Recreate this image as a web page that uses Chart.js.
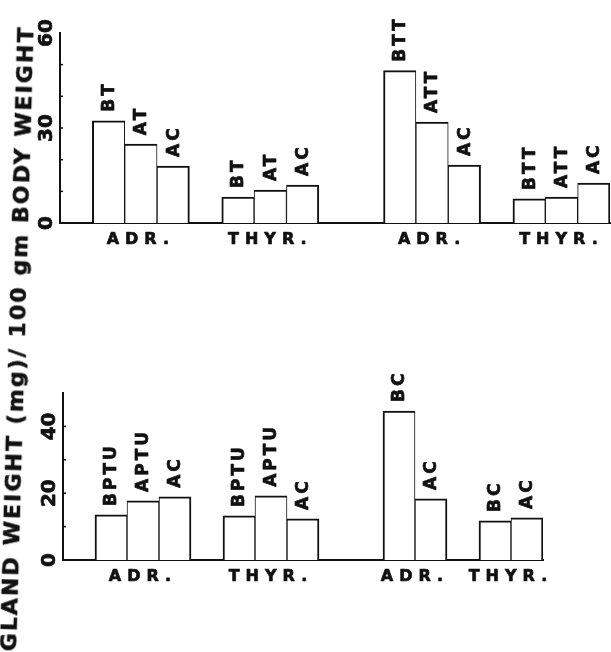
<!DOCTYPE html>
<html>
<head>
<meta charset="utf-8">
<script src="https://cdn.jsdelivr.net/npm/chart.js@4"></script>
<style>
  html, body { margin: 0; padding: 0; background: #fff; }
  #wrap { position: relative; width: 611px; height: 652px; overflow: hidden; background: #fff; }
  .box { position: absolute; left: 0; width: 611px; }
  .box canvas { position: absolute; left: 0; top: 0; }
  #ytitle {
    position: absolute; left: -2px; top: 651px;
    font: bold 22px "DejaVu Sans", sans-serif; line-height: 22px;
    white-space: nowrap; color: #111; -webkit-text-stroke: 0.6px #111;
    transform-origin: 0 0; transform: rotate(-88.4deg);
  }
</style>
</head>
<body>
<div id="wrap">
  <div class="box" style="top:0;height:260px"><canvas id="c1"></canvas></div>
  <div class="box" style="top:260px;height:392px"><canvas id="c2"></canvas></div>
  <div id="ytitle">GLAND WEIGHT (mg)/ 100 gm BODY WEIGHT</div>
</div>
<script>
// ---------- data ----------
const topLabels = ['', 'BT', 'AT', 'AC', '', 'BT', 'AT', 'AC', '', '', 'BTT', 'ATT', 'AC', '', 'BTT', 'ATT', 'AC'];
const topValues = [null, 32.3, 24.9, 18.0, null, 8.2, 10.4, 12.0, null, null, 48.1, 31.9, 18.3, null, 7.6, 8.2, 12.6];
const topGroupLabels = ['ADR.', 'THYR.', 'ADR.', 'THYR.'];
const topGroupSlots = [[1, 3], [5, 7], [10, 12], [14, 16]];
const topYMax = 60;
const topYTickLabels = [0, 30, 60];
const topMinorTicks = [10, 20, 30, 40, 50];

const bottomLabels = ['', 'BPTU', 'APTU', 'AC', '', 'BPTU', 'APTU', 'AC', '', '', 'BC', 'AC', '', 'BC', 'AC'];
const bottomValues = [null, 13.5, 17.7, 18.9, null, 13.2, 19.2, 12.3, null, null, 44.6, 18.3, null, 11.7, 12.6];
const bottomGroupLabels = ['ADR.', 'THYR.', 'ADR.', 'THYR.'];
const bottomGroupSlots = [[1, 3], [5, 7], [10, 11], [13, 14]];
const bottomYMax = 50;
const bottomYTickLabels = [0, 20, 40];
const bottomMinorTicks = [10, 20, 30, 40];

const INK = '#111';
const FONT = '"DejaVu Sans", sans-serif';

// fit the rotated axis title to its length in the reference
(function () {
  const el = document.getElementById('ytitle');
  const txt = el.textContent;
  const cv = document.createElement('canvas').getContext('2d');
  cv.font = 'bold 22px "DejaVu Sans"';
  const w = cv.measureText(txt).width;
  const target = 624;
  el.style.letterSpacing = ((target - w) / (txt.length - 1)) + 'px';
})();

function heavyText(ctx, s, x, y) {
  ctx.fillText(s, x, y);
  ctx.strokeText(s, x, y);
}

function makeChart(id, w, h, labels, values, groupLabels, groupSlots, yMax, yTickLabels, minorTicks, pad) {
  const canvas = document.getElementById(id);
  canvas.width = w; canvas.height = h;
  canvas.style.width = w + 'px'; canvas.style.height = h + 'px';

  const annot = {
    id: 'annot' + id,
    afterDraw(chart) {
      const ctx = chart.ctx;
      const xs = chart.scales.x, ys = chart.scales.y;
      const area = chart.chartArea;
      const meta = chart.getDatasetMeta(0);
      ctx.save();
      ctx.fillStyle = INK;
      ctx.strokeStyle = INK;
      ctx.lineJoin = 'round';
      // bar labels (rotated)
      ctx.font = 'bold 17px ' + FONT;
      ctx.letterSpacing = '3px';
      ctx.lineWidth = 0.7;
      meta.data.forEach((bar, i) => {
        if (values[i] == null) return;
        ctx.save();
        ctx.translate(bar.x + 1, bar.y - 9);
        ctx.rotate(-Math.PI / 2);
        ctx.textAlign = 'left';
        ctx.textBaseline = 'middle';
        heavyText(ctx, labels[i], 0, 0);
        ctx.restore();
      });
      // group labels
      ctx.font = 'bold 16px ' + FONT;
      ctx.letterSpacing = '6px';
      ctx.textAlign = 'center';
      ctx.textBaseline = 'alphabetic';
      groupLabels.forEach((g, k) => {
        const [a, b] = groupSlots[k];
        const cx = (xs.getPixelForValue(a) + xs.getPixelForValue(b)) / 2;
        heavyText(ctx, g, cx, area.bottom + 21);
      });
      // y tick labels (rotated)
      ctx.font = 'bold 20px ' + FONT;
      ctx.letterSpacing = '0px';
      yTickLabels.forEach(v => {
        ctx.save();
        ctx.translate(area.left - 13, ys.getPixelForValue(v));
        ctx.rotate(-Math.PI / 2);
        ctx.textAlign = 'center';
        ctx.textBaseline = 'middle';
        heavyText(ctx, String(v), 0, 0);
        ctx.restore();
      });
      // small inner tick marks
      ctx.lineWidth = 1.5;
      minorTicks.forEach(v => {
        const y = ys.getPixelForValue(v);
        ctx.beginPath();
        ctx.moveTo(area.left, y);
        ctx.lineTo(area.left + 3, y);
        ctx.stroke();
      });
      ctx.restore();
    }
  };

  return new Chart(canvas, {
    type: 'bar',
    data: {
      labels: labels,
      datasets: [{
        data: values,
        backgroundColor: '#fff',
        borderColor: INK,
        borderSkipped: false,
        borderWidth: (c) => {
          const i = c.dataIndex;
          const prevNull = i === 0 || values[i - 1] == null;
          const nextNull = i === values.length - 1 || values[i + 1] == null;
          return { top: 2, bottom: 0, left: prevNull ? 2 : 1, right: nextNull ? 2 : 1 };
        },
        barPercentage: 1,
        categoryPercentage: 1
      }]
    },
    options: {
      responsive: false,
      animation: false,
      events: [],
      layout: { padding: pad },
      plugins: { legend: { display: false }, tooltip: { enabled: false }, title: { display: false } },
      scales: {
        x: {
          grid: { display: false, drawTicks: false },
          ticks: { display: false },
          border: { display: true, color: INK, width: 2 }
        },
        y: {
          min: 0, max: yMax,
          grid: { display: false, drawTicks: false },
          ticks: { display: false },
          border: { display: true, color: INK, width: 2 }
        }
      }
    },
    plugins: [annot]
  });
}

makeChart('c1', 611, 260, topLabels, topValues, topGroupLabels, topGroupSlots, topYMax, topYTickLabels, topMinorTicks,
  { left: 60, top: 33, right: 1, bottom: 37 });
makeChart('c2', 611, 392, bottomLabels, bottomValues, bottomGroupLabels, bottomGroupSlots, bottomYMax, bottomYTickLabels, bottomMinorTicks,
  { left: 63, top: 133, right: 68, bottom: 92 });
</script>
</body>
</html>
